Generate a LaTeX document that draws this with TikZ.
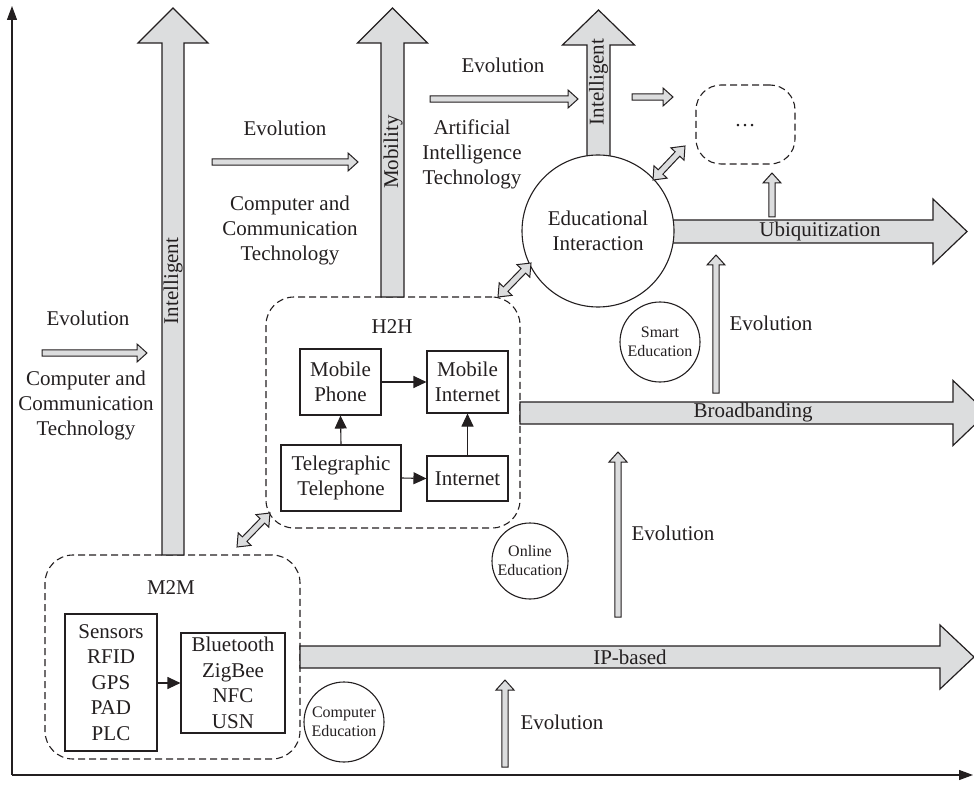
\documentclass[tikz,border=0pt]{standalone}
\usepackage{fontspec}
\setmainfont{Liberation Serif}
\usetikzlibrary{arrows.meta}

\definecolor{ink}{HTML}{231F20}
\definecolor{shade}{HTML}{DCDDDE}

% Block arrow: style, x1, y1, x2, y2, shaft half-width, head half-width, head length
\newcommand\fatarrow[8]{%
  \pgfmathsetmacro\faAng{atan2(-(#5)+(#3),(#4)-(#2))}%
  \pgfmathsetmacro\faLen{veclen((#4)-(#2),(#5)-(#3))}%
  \draw[#1,shift={(#2,#3)},rotate=\faAng]
    (0,-#6) -- ({\faLen-#8},-#6) -- ({\faLen-#8},-#7) -- (\faLen,0)
    -- ({\faLen-#8},#7) -- ({\faLen-#8},#6) -- (0,#6) -- cycle;}

% Double-headed block arrow: style, x1, y1, x2, y2, shaft half-width, head half-width, head length
\newcommand\fatdarrow[8]{%
  \pgfmathsetmacro\faAng{atan2(-(#5)+(#3),(#4)-(#2))}%
  \pgfmathsetmacro\faLen{veclen((#4)-(#2),(#5)-(#3))}%
  \draw[#1,shift={(#2,#3)},rotate=\faAng]
    (0,0) -- (#8,-#7) -- (#8,-#6) -- ({\faLen-#8},-#6) -- ({\faLen-#8},-#7)
    -- (\faLen,0) -- ({\faLen-#8},#7) -- ({\faLen-#8},#6) -- (#8,#6)
    -- (#8,#7) -- cycle;}

\begin{document}
\begin{tikzpicture}[x=1pt,y=-1pt,
  lbl/.style={font=\fontsize{21}{25}\selectfont, align=center, inner sep=0pt, text=ink},
  smalllbl/.style={font=\fontsize{16}{19}\selectfont, align=center, inner sep=0pt, text=ink},
  itembox/.style={draw=ink, line width=1.1pt, align=center, inner sep=0pt,
    font=\fontsize{21}{25.5}\selectfont, text=ink},
  group/.style={draw=ink, line width=1.1pt, dash pattern=on 7pt off 4pt,
    rounded corners=28pt, inner sep=0pt},
  bubble/.style={circle, draw=ink, line width=1.1pt, fill=white, inner sep=0pt},
  bigarrow/.style={draw=ink, fill=shade, line width=1.2pt, line join=miter},
  evoarrow/.style={draw=ink, fill=shade, line width=1pt, line join=miter},
  link/.style={draw=ink, line width=1.1pt, -{Triangle[length=13pt,width=12pt]}},
  axis/.style={draw=ink, line width=1.2pt, -{Triangle[length=14pt,width=10pt]}}]

\useasboundingbox (0,0) rectangle (974,786);

% axes
\coordinate (O) at (12,775);
\coordinate (ytip) at (12,6);
\coordinate (xtip) at (973,775);
\draw[axis] (O) -- (ytip);
\draw[axis] (O) -- (xtip);

% dashed groups
\node[group, minimum width=254pt, minimum height=231pt] (h2h) at (393,412.5) {};
\node[group, minimum width=255pt, minimum height=204pt] (m2m) at (172.5,657) {};
\node[group, rounded corners=25pt, minimum width=99pt, minimum height=79pt] (more) at (745.5,124.5) {};
\node[lbl] (moretxt) at (745,126) {\dots};

\node[lbl] (h2hlbl) at (392,327) {H2H};
\node[lbl] (m2mlbl) at (171,588) {M2M};

% H2H content
\node[itembox, minimum width=81pt, minimum height=66pt] (mphone) at (340.5,382) {Mobile\\Phone};
\node[itembox, minimum width=81pt, minimum height=62pt] (minet) at (467.5,382) {Mobile\\Internet};
\node[itembox, minimum width=120pt, minimum height=66pt] (tele) at (341,478) {Telegraphic\\Telephone};
\node[itembox, minimum width=81pt, minimum height=45pt] (inet) at (467.5,478.5) {Internet};
\draw[link] (mphone.east) -- (minet.west);
\draw[link] (tele.north) -- (mphone.south);
\draw[link] (tele.east) -- (inet.west);
\draw[link] (inet.north) -- (minet.south);

% M2M content
\node[itembox, minimum width=92pt, minimum height=137pt] (sens) at (111,682.5) {Sensors\\RFID\\GPS\\PAD\\PLC};
\node[itembox, minimum width=104pt, minimum height=100pt] (bt) at (233,683) {Bluetooth\\ZigBee\\NFC\\USN};
\draw[link] (sens.east |- bt.west) -- (bt.west);

% main block arrows
\fatarrow{bigarrow}{173}{555}{173}{8}{11}{35}{35}
\fatarrow{bigarrow}{392.5}{297}{392.5}{8}{11.5}{35}{35}
\fatarrow{bigarrow}{598.5}{160}{598.5}{10}{11.5}{36}{35}
\fatarrow{bigarrow}{670}{231.5}{967}{231.5}{11.5}{32.5}{34}
\fatarrow{bigarrow}{520}{413}{987}{413}{11}{32.5}{34}
\fatarrow{bigarrow}{300}{657}{974}{657}{11}{32}{34}

\node[lbl, rotate=90] (intA) at (173,281) {Intelligent};
\node[lbl, rotate=90] (mob) at (393,152) {Mobility};
\node[lbl, rotate=90] (intB) at (598.5,82) {Intelligent};
\node[lbl] (ubi) at (820,231) {Ubiquitization};
\node[lbl] (broad) at (753,412) {Broadbanding};
\node[lbl] (ipb) at (630,657) {IP-based};

% education stages
\node[bubble, minimum size=152pt, font=\fontsize{21}{25}\selectfont, align=center, text=ink] (edu) at (598,231) {Educational\\Interaction};
\node[bubble, minimum size=80pt] (smart) at (660,342) {};
\node[smalllbl] at (smart) {Smart\\Education};
\node[bubble, minimum size=76pt] (online) at (530,561) {};
\node[smalllbl] at (online) {Online\\Education};
\node[bubble, minimum size=80pt] (comped) at (344,722) {};
\node[smalllbl] at (comped) {Computer\\Education};

% evolution arrows
\fatarrow{evoarrow}{42}{353}{147}{353}{3.2}{9}{10}
\fatarrow{evoarrow}{212}{162}{358}{162}{3.2}{9}{10}
\fatarrow{evoarrow}{430}{99}{578}{99}{3.2}{9}{10}
\fatarrow{evoarrow}{632}{97}{673}{97}{3.2}{9}{10}
\fatarrow{evoarrow}{772}{217}{772}{173}{3.2}{9}{10}
\fatarrow{evoarrow}{716}{393}{716}{255}{3.2}{9}{10}
\fatarrow{evoarrow}{618}{617}{618}{452}{3.2}{9}{10}
\fatarrow{evoarrow}{505}{767}{505}{680}{3.2}{9}{10}

% interaction links between stages
\fatdarrow{evoarrow}{237}{547}{270}{513}{3.2}{9}{11}
\fatdarrow{evoarrow}{498}{297}{531}{263}{3.2}{9}{11}
\fatdarrow{evoarrow}{653}{180}{685}{146}{3.2}{9}{11}

% text labels
\node[lbl] (evoA) at (88,318) {Evolution};
\node[lbl] (cctA) at (86,405) {Computer and\\Communication\\Technology};
\node[lbl] (evoB) at (285,128) {Evolution};
\node[lbl] (cctB) at (290,230) {Computer and\\Communication\\Technology};
\node[lbl] (evoC) at (503,65) {Evolution};
\node[lbl] (ait) at (472,154) {Artificial\\Intelligence\\Technology};
\node[lbl] (evoD) at (771,323) {Evolution};
\node[lbl] (evoE) at (673,533) {Evolution};
\node[lbl] (evoF) at (562,722) {Evolution};
\end{tikzpicture}
\end{document}
